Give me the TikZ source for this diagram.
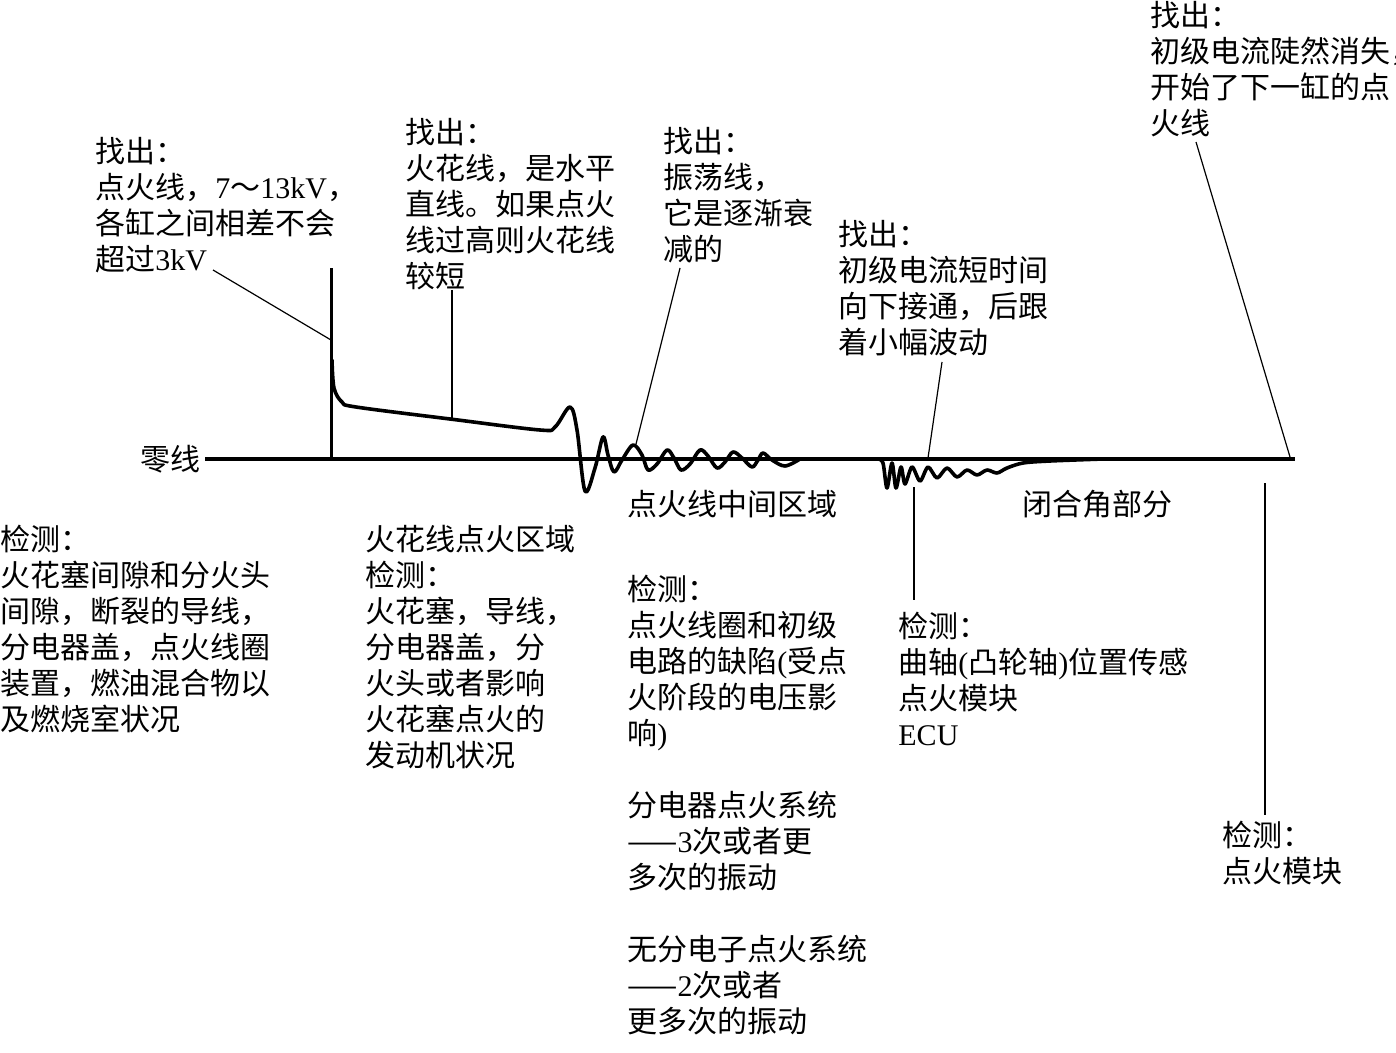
\documentclass[tikz,border=0pt]{standalone}
\usepackage{fontspec}
\setmainfont{Noto Sans CJK SC}
\newfontfamily\lat{Liberation Serif}
\usetikzlibrary{positioning}

\begin{document}
\begin{tikzpicture}[x=0.5pt, y=-0.5pt,
    note/.style={anchor=north west, inner sep=0pt, align=left,
                 font=\fontsize{15}{18}\selectfont},
    wave/.style={line width=1.8pt, line join=round, line cap=round},
    leader/.style={line width=0.6pt},
]
\useasboundingbox (0,0) rectangle (1396,1053);

% zero line and firing spike
\coordinate (z0) at (205,459);
\coordinate (z1) at (1295,459);
\coordinate (spk) at (331,268);
\coordinate (spb) at (331,459);
\draw[line width=1.9pt] (z0) -- (z1);
\draw[line width=1.5pt] (spb) -- (spk);

% spark line and oscillations
\draw[wave] plot[smooth, tension=0.55] coordinates {
    (332,360) (334,388) (342,402) (356,407) (450,419) (540,430) (555,427)
    (570,407) (577,430) (585,491) (595,468) (603,437) (608,455) (614,472)
    (622,460) (633,445) (642,455) (648,470) (657,464) (667,450) (674,458)
    (681,470) (690,464) (700,450) (708,456) (717,468) (725,462) (733,452)
    (742,458) (752,467) (758,460) (763,453) (772,460) (785,466) (800,459)};

% dwell section
\draw[wave] plot[smooth, tension=0.5] coordinates {
    (878,459) (883,463) (887,488) (892,463) (896,488) (901,467) (905,484)
    (912,467) (920,481) (928,467) (937,478) (947,468) (957,477) (967,470)
    (977,475) (987,470) (997,473) (1007,468) (1023,463) (1050,461) (1103,459)};

% texts above
\node[note] (find1) at (95,137) {找出：\\点火线，{\lat 7}～{\lat 13kV}，\\各缸之间相差不会\\超过{\lat 3kV}};
\node[note] (find2) at (405,118) {找出：\\火花线，是水平\\直线。如果点火\\线过高则火花线\\较短};
\node[note] (find3) at (663,127) {找出：\\振荡线，\\它是逐渐衰\\减的};
\node[note] (find4) at (838,220) {找出：\\初级电流短时间\\向下接通，后跟\\着小幅波动};
\node[note] (find5) at (1150,1) {找出：\\初级电流陡然消失，\\开始了下一缸的点\\火线};
\node[note] (zero) at (140,445) {零线};

% texts below
\node[note] (test1) at (0,525) {检测：\\火花塞间隙和分火头\\间隙，断裂的导线，\\分电器盖，点火线圈\\装置，燃油混合物以\\及燃烧室状况};
\node[note] (test2) at (365,525) {火花线点火区域\\检测：\\火花塞，导线，\\分电器盖，分\\火头或者影响\\火花塞点火的\\发动机状况};
\node[note] (mid) at (627,490) {点火线中间区域};
\node[note] (test3) at (627,575) {检测：\\点火线圈和初级\\电路的缺陷{\lat (}受点\\火阶段的电压影\\响{\lat )}\\[18pt]分电器点火系统\\——{\lat 3}次或者更\\多次的振动\\[18pt]无分电子点火系统\\——{\lat 2}次或者\\更多次的振动};
\node[note] (dwell) at (1022,490) {闭合角部分};
\node[note] (test4) at (898,612) {检测：\\曲轴{\lat (}凸轮轴{\lat )}位置传感\\点火模块\\{\lat ECU}};
\node[note] (test5) at (1222,821) {检测：\\点火模块};

% leaders
\coordinate (a1) at (213,270);  \coordinate (b1) at (331,340);
\coordinate (a2) at (452,290);  \coordinate (b2) at (452,418);
\coordinate (a3) at (680,268);  \coordinate (b3) at (636,444);
\coordinate (a4) at (942,362);  \coordinate (b4) at (928,458);
\coordinate (a5) at (1196,142); \coordinate (b5) at (1290,457);
\coordinate (a6) at (914,487);  \coordinate (b6) at (914,600);
\coordinate (a7) at (1265,483); \coordinate (b7) at (1265,815);
\foreach \i in {1,...,7}
  \draw[leader] (a\i) -- (b\i);
\end{tikzpicture}
\end{document}
